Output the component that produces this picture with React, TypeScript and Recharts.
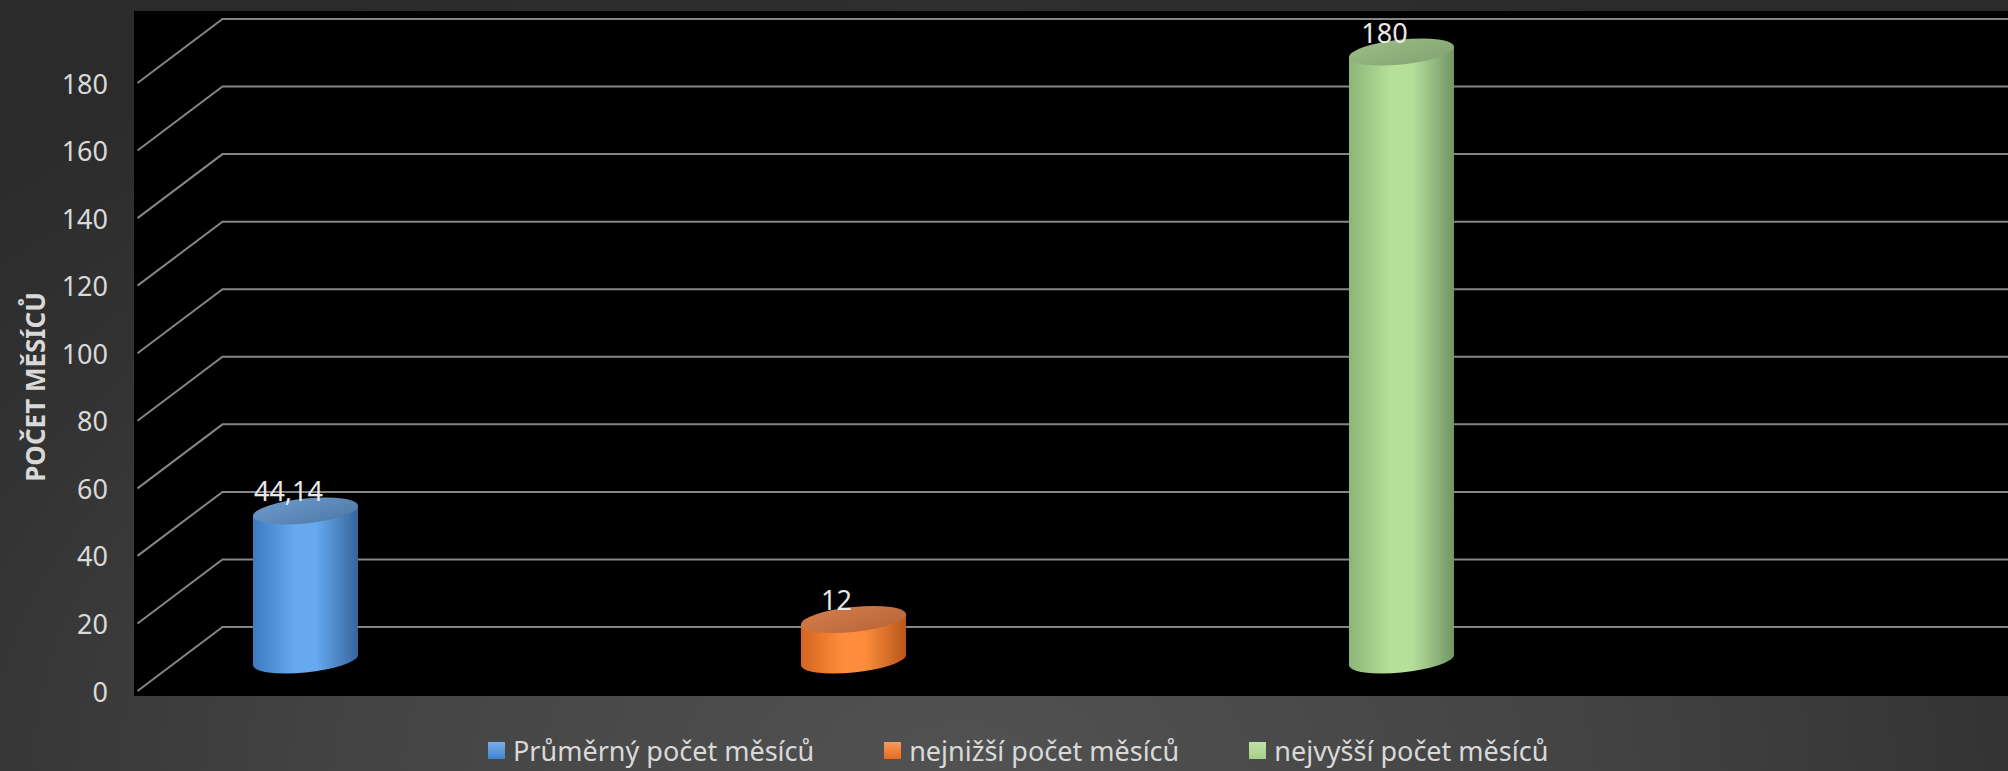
import React from 'react';
import { BarChart, Bar, XAxis, YAxis, CartesianGrid, Legend, LabelList } from 'recharts';

// ---- data ----
const categories = ['Počet měsíců'];
const seriesNames = ['Průměrný počet měsíců', 'nejnižší počet měsíců', 'nejvyšší počet měsíců'];
const prumerValues = [44.14];
const minValues = [12];
const maxValues = [180];
const yTicks = [0, 20, 40, 60, 80, 100, 120, 140, 160, 180];
const yTitle = 'POČET MĚSÍCŮ';

const data = categories.map((c, i) => ({
  name: c,
  prumer: prumerValues[i],
  min: minValues[i],
  max: maxValues[i],
}));

// ---- style ----
const W = 2008;
const H = 771;
const FONT = '"Noto Sans", "Open Sans", sans-serif';
const TEXT = '#d9d9d9';
const GRID = '#858585';
const BACK_DX = 42.5;
const BACK_DY = -33;
const FRONT_DX = -42.5;
const FRONT_DY = 31;

const palette: Record<string, any> = {
  blue: { legend: '#5b9bd5', leg1: '#79b0ea', leg2: '#3e82cc', left: '#3c7bc0', mid: '#66a9ef', right: '#35669c', top1: '#6b9acb', top2: '#4f79a6' },
  orange: { legend: '#ed7d31', leg1: '#f99a5a', leg2: '#e46c1e', left: '#d4651f', mid: '#ff8d3d', right: '#b9561a', top1: '#d27c48', top2: '#b9653a' },
  green: { legend: '#a9d18e', leg1: '#bfe2a6', leg2: '#a3cf87', left: '#8ab576', mid: '#b6e09a', right: '#729565', top1: '#9bbd86', top2: '#82a371' },
};

const Cylinder = (props: any) => {
  const { x, y, width, height, gid } = props;
  if (width == null || height == null || isNaN(x) || isNaN(y)) return null;
  const rx = width / 2;
  const ry = 12.5;
  const cx = x + rx;
  const yTop = y;
  const yBot = y + height;
  return (
    <g transform={`translate(${cx} 0) skewY(-5.5) translate(${-cx} 0)`}>
      <path
        d={`M${x},${yTop} L${x},${yBot} A${rx},${ry} 0 0 0 ${x + width},${yBot} L${x + width},${yTop} Z`}
        fill={`url(#body-${gid})`}
      />
      <ellipse cx={cx} cy={yTop} rx={rx} ry={ry} fill={`url(#top-${gid})`} />
    </g>
  );
};

const renderLabel = (p: any) => {
  const { x, y, width, value } = p;
  return (
    <text
      x={x + width / 2 - 17}
      y={y - 20}
      textAnchor="middle"
      dominantBaseline="central"
      fill="#e8e8e8"
      fontSize={27}
      fontFamily={FONT}
    >
      {String(value).replace('.', ',')}
    </text>
  );
};

const gridLine = (p: any) => {
  const { x1, x2, y1, index } = p;
  const fx = x1 + FRONT_DX;
  const fy = y1 + FRONT_DY;
  const bx = x1 + BACK_DX;
  const by = y1 + BACK_DY;
  return (
    <polyline
      key={`grid-${index}-${y1}`}
      points={`${fx},${fy} ${bx},${by} ${x2},${by}`}
      fill="none"
      stroke={GRID}
      strokeWidth={2}
    />
  );
};

const YTick = (p: any) => {
  const { x, y, payload } = p;
  return (
    <text
      x={x - 72}
      y={y + FRONT_DY}
      textAnchor="end"
      dominantBaseline="central"
      fill={TEXT}
      fontSize={27}
      fontFamily={FONT}
    >
      {payload.value}
    </text>
  );
};

const renderYTitle = (p: any) => {
  const vb = p.viewBox || { x: 0, y: 52, width: 180, height: 608 };
  const cx = vb.x + 35;
  const cy = vb.y + vb.height / 2 + FRONT_DY;
  return (
    <text
      x={cx}
      y={cy}
      transform={`rotate(-90 ${cx} ${cy})`}
      textAnchor="middle"
      dominantBaseline="central"
      fill={TEXT}
      fontSize={26}
      fontWeight="bold"
      fontFamily={FONT}
    >
      {yTitle}
    </text>
  );
};

const legendKeys = ['blue', 'orange', 'green'];

const renderLegend = (p: any) => {
  const payload = p.payload || [];
  return (
    <div style={{ display: 'flex', alignItems: 'center', fontFamily: FONT, fontSize: 27, lineHeight: '27px', color: TEXT, whiteSpace: 'nowrap' }}>
      {payload.map((e: any, i: number) => {
        const c = palette[legendKeys[i]] || palette.blue;
        return (
          <div key={i} style={{ display: 'flex', alignItems: 'center', marginRight: i < payload.length - 1 ? 70 : 0 }}>
            <span style={{ display: 'inline-block', width: 17, height: 17, background: `linear-gradient(to bottom, ${c.leg1}, ${c.leg2})`, marginRight: 8 }} />
            <span>{e.value}</span>
          </div>
        );
      })}
    </div>
  );
};

export default function App() {
  return (
    <div
      style={{
        position: 'absolute',
        left: 0,
        top: 0,
        width: W,
        height: H,
        overflow: 'hidden',
        background:
          'radial-gradient(ellipse 70% 110% at 48% 100%, #525252 0%, #434343 45%, #333333 75%, #2b2b2b 100%)',
      }}
    >
      <div style={{ position: 'absolute', left: 134, top: 11, width: W - 134, height: 685, background: '#000' }} />
      <div style={{ position: 'absolute', left: 0, top: 0 }}>
        <BarChart
          width={W}
          height={H}
          data={data}
          margin={{ top: 52, right: 0, bottom: 111, left: 0 }}
          barSize={105}
          barGap={443}
        >
          <defs>
            {legendKeys.map((k) => {
              const c = palette[k];
              return (
                <React.Fragment key={k}>
                  <linearGradient id={`body-${k}`} x1="0" y1="0" x2="1" y2="0">
                    <stop offset="0%" stopColor={c.left} />
                    <stop offset="40%" stopColor={c.mid} />
                    <stop offset="60%" stopColor={c.mid} />
                    <stop offset="100%" stopColor={c.right} />
                  </linearGradient>
                  <linearGradient id={`top-${k}`} x1="0" y1="0" x2="1" y2="1">
                    <stop offset="0%" stopColor={c.top1} />
                    <stop offset="100%" stopColor={c.top2} />
                  </linearGradient>
                </React.Fragment>
              );
            })}
          </defs>
          <CartesianGrid vertical={false} horizontal={gridLine} stroke={GRID} />
          <XAxis dataKey="name" hide padding={{ left: 0, right: 482 }} />
          <YAxis
            width={180}
            domain={[0, 180]}
            ticks={yTicks}
            interval={0}
            axisLine={false}
            tickLine={false}
            tickSize={0}
            tickMargin={0}
            tick={<YTick />}
            label={{ content: renderYTitle }}
          />
          <Legend
            layout="horizontal"
            verticalAlign="middle"
            align="center"
            content={renderLegend}
            wrapperStyle={{ left: 488, top: 737, width: 'auto', height: 'auto' }}
          />
          <Bar dataKey="prumer" name={seriesNames[0]} fill={palette.blue.legend} isAnimationActive={false} shape={(p: any) => <Cylinder {...p} gid="blue" />}>
            <LabelList dataKey="prumer" content={renderLabel} />
          </Bar>
          <Bar dataKey="min" name={seriesNames[1]} fill={palette.orange.legend} isAnimationActive={false} shape={(p: any) => <Cylinder {...p} gid="orange" />}>
            <LabelList dataKey="min" content={renderLabel} />
          </Bar>
          <Bar dataKey="max" name={seriesNames[2]} fill={palette.green.legend} isAnimationActive={false} shape={(p: any) => <Cylinder {...p} gid="green" />}>
            <LabelList dataKey="max" content={renderLabel} />
          </Bar>
        </BarChart>
      </div>
    </div>
  );
}
